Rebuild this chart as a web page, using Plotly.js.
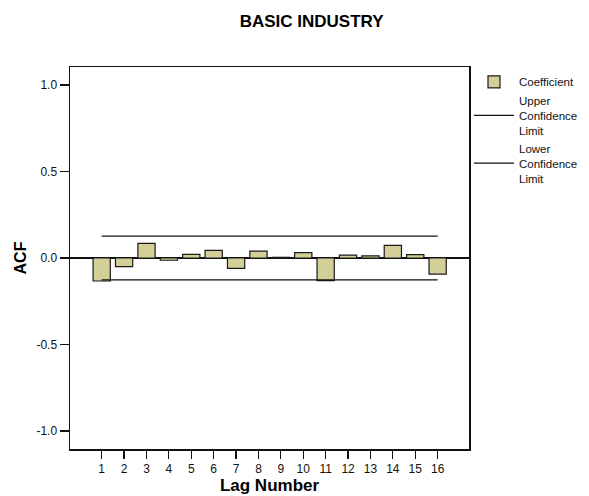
<!DOCTYPE html>
<html>
<head>
<meta charset="utf-8">
<script src="https://cdn.plot.ly/plotly-3.0.1.min.js"></script>
<style>
  html, body { margin: 0; padding: 0; background: #ffffff; }
  #chart { width: 589px; height: 496px; }
</style>
</head>
<body>
<div id="chart"></div>
<script>
// Autocorrelation function of the series, lags 1-16
const lags = [1, 2, 3, 4, 5, 6, 7, 8, 9, 10, 11, 12, 13, 14, 15, 16];
const acf = [-0.133, -0.050, 0.085, -0.013, 0.021, 0.044, -0.060, 0.040,
             0.004, 0.031, -0.131, 0.017, 0.012, 0.073, 0.019, -0.093];
const upperLimit = [0.127, 0.127, 0.127, 0.127, 0.127, 0.127, 0.127, 0.127,
                    0.127, 0.127, 0.127, 0.127, 0.127, 0.127, 0.127, 0.127];
const lowerLimit = [-0.127, -0.127, -0.127, -0.127, -0.127, -0.127, -0.127, -0.127,
                    -0.127, -0.127, -0.127, -0.127, -0.127, -0.127, -0.127, -0.127];
const yTicks = [-1.0, -0.5, 0.0, 0.5, 1.0];

const FONT = "Liberation Sans, Arial, sans-serif";

const traces = [
  {
    type: "bar",
    name: "Coefficient",
    x: lags,
    y: acf,
    width: 0.77,
    marker: { color: "#d4cf96", line: { color: "#1a1a1a", width: 1.2 } },
    hoverinfo: "x+y"
  },
  {
    type: "scatter",
    mode: "lines",
    name: "Upper<br>Confidence<br>Limit",
    x: lags,
    y: upperLimit,
    line: { color: "#111111", width: 1.2 }
  },
  {
    type: "scatter",
    mode: "lines",
    name: "Lower<br>Confidence<br>Limit",
    x: lags,
    y: lowerLimit,
    line: { color: "#111111", width: 1.2 }
  }
];

const layout = {
  width: 589,
  height: 496,
  paper_bgcolor: "#ffffff",
  plot_bgcolor: "#ffffff",
  margin: { l: 70, r: 120, t: 67, b: 47, autoexpand: false },
  font: { family: FONT, color: "#111111", size: 12 },
  title: {
    text: "<b>BASIC INDUSTRY</b>",
    font: { family: FONT, size: 17, color: "#000000" },
    x: 0.529, xanchor: "center",
    y: 0.958, yanchor: "middle"
  },
  bargap: 0,
  showlegend: true,
  legend: {
    x: 1.0, xanchor: "left",
    y: 0.999, yanchor: "top",
    itemwidth: 40,
    font: { family: FONT, size: 11.5, color: "#111111" },
    bgcolor: "rgba(0,0,0,0)",
    traceorder: "normal",
    tracegroupgap: 0
  },
  xaxis: {
    range: [-0.415, 17.4],
    tickmode: "array",
    tickvals: lags,
    ticktext: lags.map(String),
    ticks: "outside",
    ticklen: 8,
    tickwidth: 1.2,
    tickcolor: "#111111",
    tickfont: { family: FONT, size: 12, color: "#111111" },
    showgrid: false,
    zeroline: false,
    showline: true,
    linecolor: "#111111",
    linewidth: 1.5,
    mirror: true,
    title: {
      text: "<b>Lag Number</b>",
      font: { family: FONT, size: 17, color: "#000000" },
      standoff: 3
    }
  },
  yaxis: {
    range: [-1.104, 1.104],
    tickmode: "array",
    tickvals: yTicks,
    ticktext: yTicks.map(v => v.toFixed(1)),
    ticks: "outside",
    ticklen: 9,
    tickwidth: 1.2,
    tickcolor: "#111111",
    tickfont: { family: FONT, size: 12, color: "#111111" },
    showgrid: false,
    zeroline: true,
    zerolinecolor: "#111111",
    zerolinewidth: 1.2,
    showline: true,
    linecolor: "#111111",
    linewidth: 1.5,
    mirror: true,
    title: {
      text: "<b>ACF</b>",
      font: { family: FONT, size: 16, color: "#000000" },
      standoff: 6
    }
  }
};

Plotly.newPlot("chart", traces, layout, { displayModeBar: false, staticPlot: true });
</script>
</body>
</html>
